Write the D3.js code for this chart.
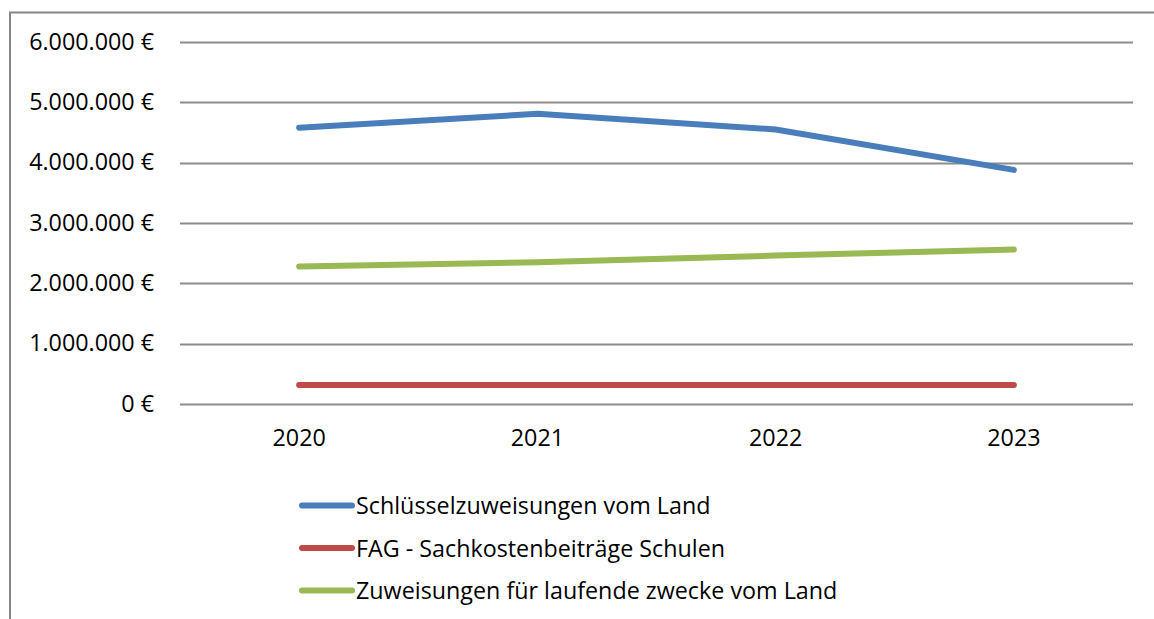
<!DOCTYPE html>
<html lang="de">
  <head>
    <meta charset="UTF-8" />
    <title>Zuweisungen vom Land</title>
    <script src="https://d3js.org/d3.v7.min.js"></script>
    <style>
      body {
        margin: 0;
        background: #fff;
      }
      svg text {
        font-family: "Open Sans", "Noto Sans", sans-serif;
        fill: #000;
      }
    </style>
  </head>
  <body>
    <svg id="chart" width="1154" height="619"></svg>
    <script>
      // data
      const years = ["2020", "2021", "2022", "2023"];
      const schluessel = [4580000, 4810000, 4550000, 3880000];
      const sachkosten = [315000, 315000, 315000, 315000];
      const laufende = [2280000, 2350000, 2460000, 2560000];
      const yTicks = [0, 1000000, 2000000, 3000000, 4000000, 5000000, 6000000];

      const series = [
        { name: "Schlüsselzuweisungen vom Land", values: schluessel, color: "#4a7ebb" },
        { name: "FAG - Sachkostenbeiträge Schulen", values: sachkosten, color: "#be4b48" },
        { name: "Zuweisungen für laufende zwecke vom Land", values: laufende, color: "#98b954" },
      ];

      const svg = d3.select("#chart");
      const plot = { left: 180, right: 1133, top: 42, bottom: 404 };
      const fontSize = "23.3px";

      // outer frame (only left + top visible in the reference)
      svg.append("path")
        .attr("d", "M10,619 V12.5 H1154")
        .attr("fill", "none")
        .attr("stroke", "#868686")
        .attr("stroke-width", 2);

      const x = d3.scaleBand().domain(years).range([plot.left, plot.right]);
      const y = d3.scaleLinear().domain([0, 6000000]).range([plot.bottom, plot.top]);

      const fmt = (v) => d3.format(",")(v).replace(/,/g, ".") + " €";

      // gridlines
      svg.append("g")
        .selectAll("line")
        .data(yTicks)
        .join("line")
        .attr("x1", plot.left)
        .attr("x2", plot.right)
        .attr("y1", (d) => Math.round(y(d)) + 0.5)
        .attr("y2", (d) => Math.round(y(d)) + 0.5)
        .attr("stroke", "#8c8c8c")
        .attr("stroke-width", 2);

      // y axis labels
      const yAxis = svg.append("g")
        .attr("transform", `translate(${plot.left},0)`)
        .call(d3.axisLeft(y).tickValues(yTicks).tickFormat(fmt).tickSize(0).tickPadding(26));
      yAxis.select(".domain").remove();
      yAxis.selectAll("text").style("font-size", fontSize).attr("dy", "0.3em");

      // x axis labels
      const xAxis = svg.append("g")
        .attr("transform", `translate(0,${plot.bottom})`)
        .call(d3.axisBottom(x).tickSize(0).tickPadding(25));
      xAxis.select(".domain").remove();
      xAxis.selectAll("text").style("font-size", fontSize);

      // lines
      const line = d3.line()
        .x((d, i) => x(years[i]) + x.bandwidth() / 2)
        .y((d) => y(d));

      svg.append("g")
        .selectAll("path")
        .data(series)
        .join("path")
        .attr("d", (d) => line(d.values))
        .attr("fill", "none")
        .attr("stroke", (d) => d.color)
        .attr("stroke-width", 6)
        .attr("stroke-linecap", "round")
        .attr("stroke-linejoin", "round");

      // legend
      const legend = svg.append("g")
        .selectAll("g")
        .data(series)
        .join("g")
        .attr("transform", (d, i) => `translate(302,${505.5 + i * 42.5})`);

      legend.append("line")
        .attr("x1", 0)
        .attr("x2", 50)
        .attr("stroke", (d) => d.color)
        .attr("stroke-width", 6)
        .attr("stroke-linecap", "round");

      legend.append("text")
        .attr("x", 54)
        .attr("dy", "0.37em")
        .style("font-size", fontSize)
        .text((d) => d.name);
    </script>
  </body>
</html>
